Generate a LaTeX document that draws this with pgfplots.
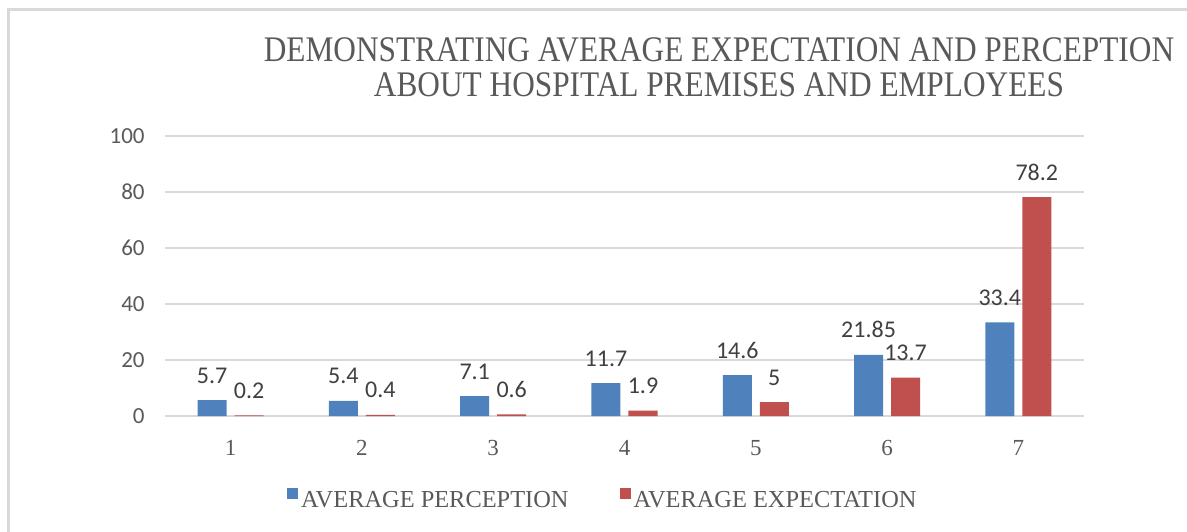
\documentclass[border=0pt]{standalone}
\usepackage{fontspec}
\setmainfont{Liberation Serif}
\newfontfamily\carlito{Carlito}
\usepackage{pgfplots}
\pgfplotsset{compat=1.18}
\definecolor{perc}{HTML}{4F81BD}
\definecolor{expe}{HTML}{C0504D}
\definecolor{txtgray}{HTML}{595959}
\definecolor{lblgray}{HTML}{404040}
\definecolor{gridgray}{HTML}{D9D9D9}

\begin{document}
\begin{tikzpicture}
\begin{axis}[
    scale only axis,
    width=459.5pt, height=140pt,
    ybar=4pt, bar width=14.5pt,
    xmin=0.5, xmax=7.5,
    ymin=0, ymax=100,
    xtick={1,2,3,4,5,6,7},
    ytick={0,20,40,60,80,100},
    axis line style={draw=none},
    major tick length=0pt,
    ymajorgrids=true,
    major grid style={gridgray, line width=1pt},
    /pgf/number format/assume math mode=true,
    yticklabel style={font=\carlito\fontsize{11.5}{12}\selectfont, text=txtgray,
        anchor=east, inner sep=0pt, xshift=-10pt},
    xticklabel style={font=\fontsize{11.5}{12}\selectfont, text=txtgray,
        anchor=north, inner sep=0pt, yshift=-12pt},
    nodes near coords,
    point meta=explicit symbolic,
    every node near coord/.append style={font=\carlito\fontsize{12}{12}\selectfont,
        text=lblgray, anchor=base, inner sep=0pt, yshift=8.5pt},
    legend style={at={(0.477,-0.305)}, anchor=center, draw=none, fill=none,
        legend columns=2, font=\fontsize{12.2}{12}\selectfont, text=txtgray,
        nodes={inner xsep=1.5pt},
        /tikz/every even column/.append style={column sep=24pt}},
    legend image code/.code={\draw[#1,/tikz/.cd,draw=none] (0pt,1pt) rectangle (5.5pt,6.5pt);},
]

\addplot[fill=perc, draw=none]
    coordinates {(1,5.7)[5.7] (2,5.4)[5.4] (3,7.1)[7.1] (4,11.7)[11.7]
                 (5,14.6)[14.6] (6,21.85)[21.85] (7,33.4)[33.4]};
\addplot[fill=expe, draw=none]
    coordinates {(1,0.2)[0.2] (2,0.4)[0.4] (3,0.6)[0.6] (4,1.9)[1.9]
                 (5,5)[5] (6,13.7)[13.7] (7,78.2)[78.2]};
\legend{AVERAGE PERCEPTION, AVERAGE EXPECTATION}
\end{axis}

% title, set narrow like the original
\node[anchor=base, text=txtgray, font=\fontsize{18}{18}\selectfont] at (277pt,177.5pt)
    {\scalebox{0.87}[1]{DEMONSTRATING AVERAGE EXPECTATION AND PERCEPTION}};
\node[anchor=base, text=txtgray, font=\fontsize{18}{18}\selectfont] at (277pt,160pt)
    {\scalebox{0.87}[1]{ABOUT HOSPITAL PREMISES AND EMPLOYEES}};

% chart frame
\draw[gridgray, line width=1.5pt] (-78.25pt,-70pt) -- (-78.25pt,203.25pt) -- (520pt,203.25pt);

\pgfresetboundingbox
\useasboundingbox (-82.5pt,-57.5pt) rectangle (511pt,208pt);
\end{tikzpicture}
\end{document}
